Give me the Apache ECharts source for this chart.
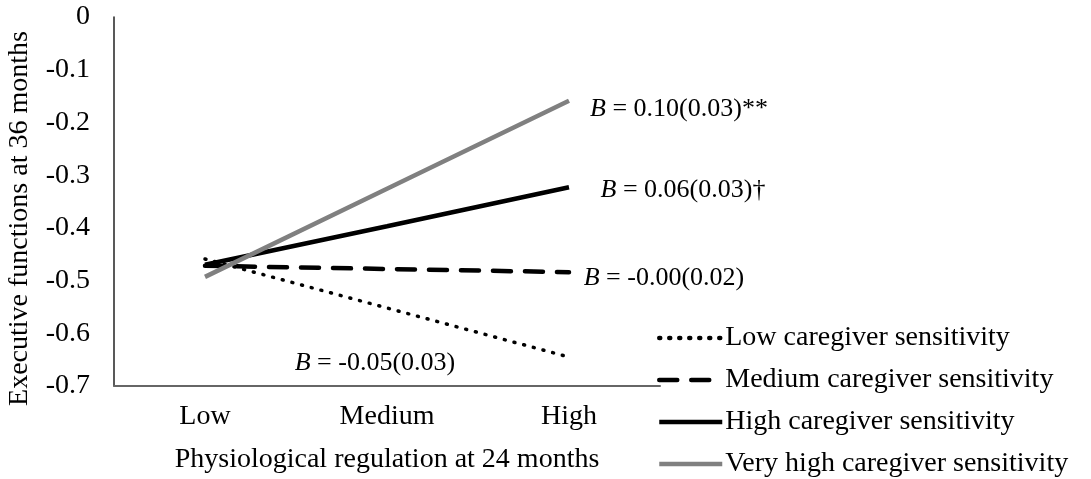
<!DOCTYPE html>
<html>
<head>
<meta charset="utf-8">
<script src="https://cdn.jsdelivr.net/npm/echarts@6/dist/echarts.min.js"></script>
<style>
html,body{margin:0;padding:0;background:#fff;}
#chart{width:1091px;height:479px;}
</style>
</head>
<body>
<div id="chart"></div>
<script>
var categories = ['Low', 'Medium', 'High'];
var lowSens = [-0.459, -0.552, -0.645];
var mediumSens = [-0.472, -0.478, -0.484];
var highSens = [-0.470, -0.397, -0.323];
var veryHighSens = [-0.493, -0.326, -0.159];
var seriesNames = ['Low caregiver sensitivity', 'Medium caregiver sensitivity', 'High caregiver sensitivity', 'Very high caregiver sensitivity'];
var annotations = ['0.10(0.03)**', '0.06(0.03)\u2020', '-0.00(0.02)', '-0.05(0.03)'];
var yTicks = { min: -0.7, max: 0, interval: 0.1 };

var FONT = 'Liberation Serif, Times New Roman, serif';
var FS = 28;
var chart = echarts.init(document.getElementById('chart'));

function annot(text, coord, offset) {
  return {
    symbol: 'circle',
    symbolSize: 1,
    silent: true,
    itemStyle: { color: 'rgba(0,0,0,0)' },
    data: [{
      coord: coord,
      label: {
        show: true,
        position: 'inside',
        offset: offset,
        formatter: '{i|B} = ' + text,
        fontFamily: FONT,
        fontSize: 26,
        color: '#000',
        rich: { i: { fontStyle: 'italic', fontFamily: FONT, fontSize: 26, color: '#000' } }
      }
    }]
  };
}

chart.setOption({
  animation: false,
  backgroundColor: '#fff',
  grid: { left: 114, right: 431, top: 17, bottom: 93, containLabel: false, outerBoundsMode: 'none' },
  legend: {
    orient: 'vertical',
    left: 657,
    top: 324,
    padding: 0,
    itemWidth: 63,
    itemHeight: 14,
    itemGap: 14,
    itemStyle: { opacity: 0 },
    lineStyle: { width: 4.5 },
    textStyle: { fontFamily: FONT, fontSize: FS, color: '#000', lineHeight: 28, padding: [0, 0, 0, -2] },
    data: seriesNames
  },
  xAxis: {
    type: 'category',
    data: categories,
    boundaryGap: true,
    axisLine: { onZero: false, lineStyle: { color: '#666', width: 2 } },
    axisTick: { show: false },
    axisLabel: { fontFamily: FONT, fontSize: FS, color: '#000', margin: 17 },
    name: 'Physiological regulation at 24 months',
    nameLocation: 'middle',
    nameGap: 60,
    nameTextStyle: { fontFamily: FONT, fontSize: FS, color: '#000' }
  },
  yAxis: {
    type: 'value',
    min: yTicks.min,
    max: yTicks.max,
    interval: yTicks.interval,
    splitLine: { show: false },
    axisLine: { show: true, lineStyle: { color: '#222', width: 1.5 } },
    axisTick: { show: false },
    axisLabel: { fontFamily: FONT, fontSize: FS, color: '#000', margin: 24 },
    name: 'Executive functions at 36 months',
    nameLocation: 'middle',
    nameGap: 80,
    nameTextStyle: { fontFamily: FONT, fontSize: FS, color: '#000', padding: [0, 34, 0, 0] }
  },
  series: [
    {
      name: seriesNames[0], type: 'line', data: lowSens, symbol: 'none',
      lineStyle: { color: '#000', width: 3.5, type: [1, 9], cap: 'round' },
      itemStyle: { color: '#000' },
      markPoint: annot(annotations[3], ['Medium', -0.665], [-12, -4])
    },
    {
      name: seriesNames[1], type: 'line', data: mediumSens, symbol: 'none',
      lineStyle: { color: '#000', width: 4.5, type: [18, 14], cap: 'round' },
      itemStyle: { color: '#000' },
      markPoint: annot(annotations[2], ['High', -0.484], [95, 6])
    },
    {
      name: seriesNames[2], type: 'line', data: highSens, symbol: 'none',
      lineStyle: { color: '#000', width: 4.5 },
      itemStyle: { color: '#000' },
      markPoint: annot(annotations[1], ['High', -0.323], [114, 3])
    },
    {
      name: seriesNames[3], type: 'line', data: veryHighSens, symbol: 'none',
      lineStyle: { color: '#808080', width: 4.5 },
      itemStyle: { color: '#808080' },
      markPoint: annot(annotations[0], ['High', -0.159], [110, 8])
    }
  ]
});
</script>
</body>
</html>
